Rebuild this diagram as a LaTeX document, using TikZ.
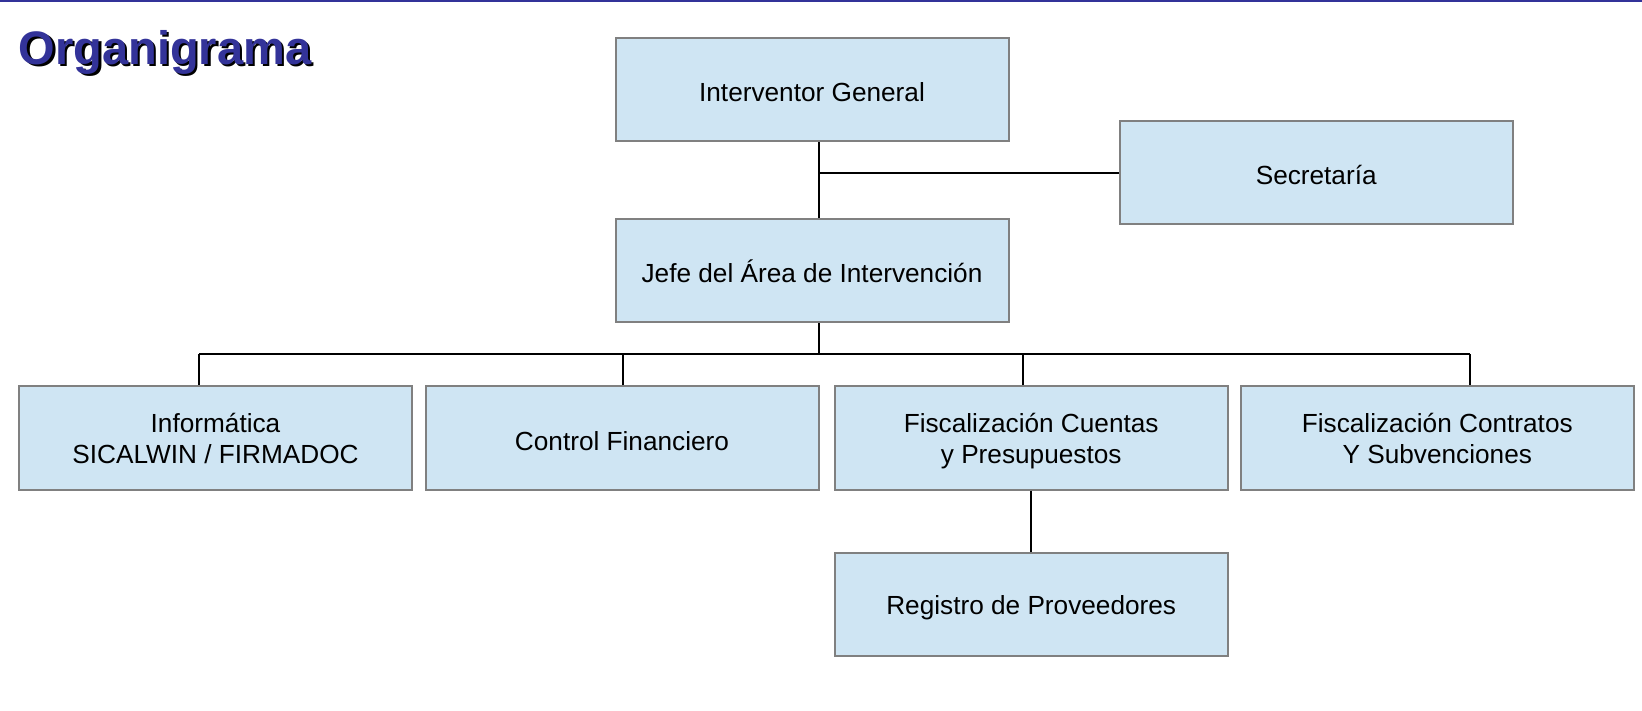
\documentclass[tikz,border=0pt]{standalone}
\usepackage{fontspec}
\setmainfont{Liberation Sans}
\definecolor{boxfill}{HTML}{CFE5F3}
\definecolor{boxline}{HTML}{808080}
\definecolor{titleblue}{HTML}{333399}
\newcommand{\onel}[1]{\rule[-2pt]{0pt}{28pt}#1}
\newcommand{\twol}[2]{\rule{0pt}{26pt}#1\\#2\rule[-6.5pt]{0pt}{6.5pt}}
\begin{document}
\begin{tikzpicture}[x=1pt,y=-1pt,
  orgbox/.style={draw=boxline,line width=2pt,fill=boxfill,rectangle,
    minimum width=393pt,minimum height=103pt,inner sep=0pt,align=center,
    font=\fontsize{26.2}{31.5}\selectfont},
  conn/.style={draw=black,line width=2pt}]
\useasboundingbox (0,0) rectangle (1642,711);
\fill[white] (0,0) rectangle (1642,711);
\draw[titleblue,line width=2pt] (0,1.5) -- (1642,1.5);
% title
\node[anchor=base west,inner sep=0pt,text=black,font=\fontsize{47}{50}\bfseries\selectfont] (tshadow) at (21,67) {Organigrama};
\node[anchor=base west,inner sep=0pt,text=titleblue,font=\fontsize{47}{50}\bfseries\selectfont] (title) at (18.5,64.5) {Organigrama};
% boxes
\node[orgbox] (ig) at (812,89.7) {\onel{Interventor General}};
\node[orgbox] (sec) at (1316.2,172.8) {\onel{Secretaría}};
\node[orgbox] (jefe) at (812,271) {\onel{Jefe del Área de Intervención}};
\node[orgbox] (inf) at (215.5,438) {\twol{Informática}{SICALWIN / FIRMADOC}};
\node[orgbox] (ctrl) at (622,438) {\onel{Control Financiero}};
\node[orgbox] (fcp) at (1031.2,438) {\twol{Fiscalización Cuentas}{y Presupuestos}};
\node[orgbox] (fcs) at (1437.3,438) {\twol{Fiscalización Contratos}{Y Subvenciones}};
\node[orgbox] (reg) at (1031.2,604.2) {\onel{Registro de Proveedores}};
% connector coordinates
\coordinate (t) at (819.3,0);
\coordinate (bus) at (819.3,354.5);
\coordinate (d1) at (199,354.5);
\coordinate (d2) at (622.7,354.5);
\coordinate (d3) at (1023.3,354.5);
\coordinate (d4) at (1469.7,354.5);
% connectors
\draw[conn] (ig.south -| t) -- (jefe.north -| t);
\draw[conn] (sec.west) -- (sec.west -| t);
\draw[conn] (jefe.south -| bus) -- (bus);
\draw[conn] (d1) -- (d4);
\draw[conn] (d1) -- (d1 |- inf.north);
\draw[conn] (d2) -- (d2 |- ctrl.north);
\draw[conn] (d3) -- (d3 |- fcp.north);
\draw[conn] (d4) -- (d4 |- fcs.north);
\draw[conn] (fcp.south) -- (reg.north);
\end{tikzpicture}
\end{document}
